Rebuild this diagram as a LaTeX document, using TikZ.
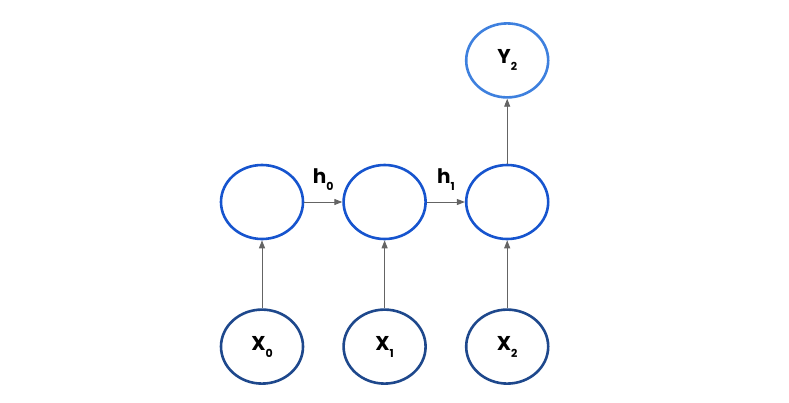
\documentclass[tikz,border=0pt]{standalone}
\usepackage{fontspec}
\setmainfont{Poppins}
\usetikzlibrary{positioning,arrows.meta,shapes.geometric}
\definecolor{hidblue}{RGB}{22,84,206}
\definecolor{inblue}{RGB}{30,72,140}
\definecolor{outblue}{RGB}{62,128,222}
\definecolor{arrgray}{RGB}{100,100,100}
\newcommand\rnnlbl[2]{\textbf{#1}\raisebox{-0.35em}{\fontsize{11}{11}\selectfont\bfseries #2}}

\begin{document}
\begin{tikzpicture}[x=1pt,y=1pt,
  node distance=38pt and 38pt,
  cell/.style={draw, ellipse, line width=2.6pt, minimum width=82pt, minimum height=74pt, inner sep=0pt, font=\fontsize{20}{20}\selectfont},
  hidden/.style={cell, draw=hidblue},
  input/.style={cell, draw=inblue},
  output/.style={cell, draw=outblue},
  arr/.style={draw=arrgray, line width=0.9pt, -{Triangle[length=8pt,width=6pt]}}]
\useasboundingbox (0,0) rectangle (789,-402);
\node[hidden] (h0) at (262,-202) {};
\node[hidden,right=of h0] (h1) {};
\node[hidden,right=of h1] (h2) {};
\node[input,below=68pt of h0] (x0) {\rnnlbl{X}{0}};
\node[input,below=68pt of h1] (x1) {\rnnlbl{X}{1}};
\node[input,below=68pt of h2] (x2) {\rnnlbl{X}{2}};
\node[output,above=65pt of h2] (y2) {\rnnlbl{Y}{2}};
\draw[arr] (h0) -- node[above=8pt,font=\fontsize{20}{20}\selectfont]{\rnnlbl{h}{0}} (h1);
\draw[arr] (h1) -- node[above=8pt,font=\fontsize{20}{20}\selectfont]{\rnnlbl{h}{1}} (h2);
\draw[arr] (x0) -- (h0);
\draw[arr] (x1) -- (h1);
\draw[arr] (x2) -- (h2);
\draw[arr] (h2) -- (y2);
\end{tikzpicture}
\end{document}
